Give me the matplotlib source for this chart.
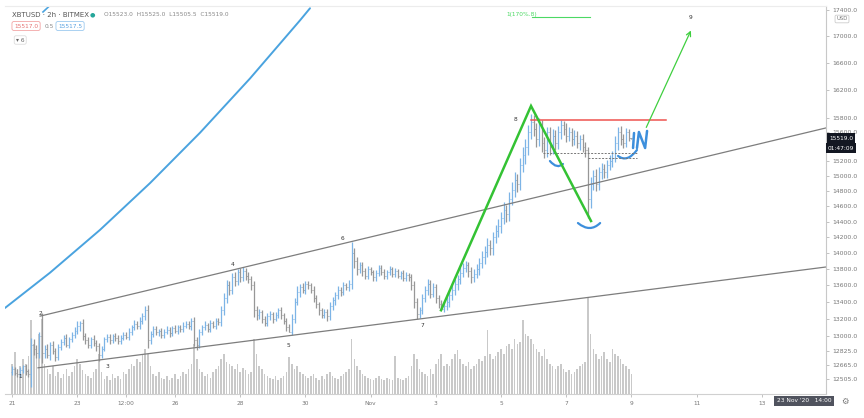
import matplotlib
matplotlib.use("Agg")
import matplotlib.pyplot as plt
import matplotlib.dates as mdates
from matplotlib.path import Path
from matplotlib.patches import PathPatch
from matplotlib.ticker import FixedLocator, FixedFormatter, NullLocator
import numpy as np
import pandas as pd

# XBTUSD 2h bars, first bar 21 Oct 2020 00:00 (open of each bar = previous close)
first_open = 12590
closes = [
    12620, 12580, 12560, 12610, 12650, 12600, 12560, 12900, 12850, 12800,
    13000, 12800, 12850, 12780, 12900, 12820, 12760, 12870, 12930, 12980,
    12900, 12960, 13010, 13060, 13120, 13150, 13000, 12950, 12900, 12960,
    12920, 12880, 12780, 12850, 12960, 12990, 12950, 13000, 12970, 12940,
    12980, 13010, 12990, 13050, 13100, 13140, 13120, 13180, 13230, 13300,
    12950, 13020, 13080, 13040, 13060, 13010, 13050, 13070, 13030, 13090,
    13060, 13100, 13080, 13120, 13140, 13110, 13170, 12950, 12900, 13050,
    13100, 13130, 13080, 13150, 13120, 13180, 13160, 13300, 13450, 13600,
    13550, 13700, 13650, 13760, 13700, 13780, 13720, 13680, 13600, 13300,
    13250, 13280, 13200, 13150, 13230, 13260, 13200, 13250, 13300, 13240,
    13180, 13100, 13050, 13200, 13400, 13520, 13580, 13550, 13620, 13600,
    13550, 13450, 13380, 13300, 13250, 13280, 13230, 13350, 13420, 13480,
    13550, 13520, 13600, 13580, 13620, 14000, 13900, 13800, 13850, 13780,
    13720, 13800, 13760, 13700, 13750, 13820, 13770, 13720, 13760, 13800,
    13740, 13780, 13720, 13750, 13690, 13730, 13700, 13600, 13400, 13260,
    13300, 13450, 13550, 13620, 13500, 13580, 13450, 13380, 13320, 13350,
    13400, 13480, 13550, 13620, 13680, 13750, 13820, 13850, 13780, 13700,
    13740, 13800, 13880, 13950, 14020, 14100, 14060, 14200, 14280, 14350,
    14450, 14550, 14500, 14700, 14820, 14950, 14900, 15150, 15280, 15400,
    15600, 15750, 15650, 15500, 15700, 15450, 15350, 15600, 15400, 15550,
    15450, 15600, 15700, 15650, 15550, 15600, 15500, 15550, 15450, 15500,
    15400, 15350, 14700, 14900, 15000, 14900, 15050, 15100, 15050, 15150,
    15200, 15250, 15450, 15600, 15500, 15450, 15600, 15523, 15519,
]
wick_up = [
    30, 25, 40, 35, 20, 30, 25, 75, 60, 50,
    50, 270, 40, 60, 30, 45, 35, 40, 30, 25,
    45, 30, 35, 40, 60, 30, 50, 35, 40, 30,
    45, 35, 40, 30, 25, 35, 30, 25, 30, 35,
    25, 30, 35, 40, 30, 50, 35, 45, 40, 50,
    60, 35, 30, 40, 25, 35, 30, 40, 30, 25,
    35, 30, 25, 40, 30, 35, 40, 50, 40, 35,
    30, 40, 25, 35, 30, 25, 30, 50, 60, 70,
    60, 50, 70, 40, 50, 50, 40, 50, 40, 60,
    50, 40, 30, 35, 40, 30, 25, 35, 30, 40,
    30, 25, 40, 60, 50, 70, 40, 50, 30, 40,
    35, 40, 30, 25, 30, 35, 40, 50, 40, 35,
    45, 30, 40, 35, 50, 140, 60, 50, 40, 45,
    35, 40, 30, 35, 40, 30, 35, 30, 25, 40,
    30, 35, 25, 30, 40, 30, 25, 40, 60, 50,
    45, 50, 40, 60, 45, 50, 40, 35, 40, 50,
    60, 50, 70, 60, 50, 80, 60, 50, 40, 50,
    60, 70, 60, 80, 70, 90, 60, 70, 80, 90,
    80, 100, 70, 90, 100, 110, 80, 100, 120, 110,
    100, 110, 90, 80, 100, 70, 90, 80, 70, 90,
    80, 90, 70, 60, 80, 70, 60, 80, 70, 60,
    70, 60, 40, 90, 80, 100, 70, 80, 60, 70,
    80, 90, 100, 80, 90, 70, 60, 50, 2,
]
wick_dn = [
    40, 30, 35, 25, 40, 45, 30, 140, 70, 50,
    60, 110, 50, 40, 60, 30, 45, 35, 30, 40,
    30, 45, 35, 30, 40, 60, 50, 40, 35, 45,
    40, 50, 70, 40, 30, 35, 40, 30, 35, 30,
    35, 25, 30, 35, 40, 30, 45, 35, 40, 45,
    90, 40, 30, 35, 40, 30, 35, 25, 40, 30,
    30, 35, 40, 30, 25, 35, 40, 70, 60, 40,
    35, 30, 40, 35, 30, 40, 35, 40, 50, 60,
    70, 50, 60, 50, 60, 40, 50, 45, 60, 80,
    60, 50, 45, 40, 35, 40, 45, 30, 35, 40,
    45, 40, 10, 40, 50, 40, 60, 45, 50, 40,
    45, 50, 55, 60, 40, 45, 50, 40, 45, 50,
    40, 50, 35, 40, 45, 60, 80, 70, 50, 60,
    45, 40, 35, 40, 45, 35, 40, 45, 35, 30,
    40, 35, 30, 40, 35, 30, 40, 50, 70, 60,
    50, 40, 45, 60, 50, 45, 60, 50, 20, 40,
    50, 60, 50, 60, 70, 60, 50, 60, 80, 70,
    60, 50, 70, 60, 80, 70, 90, 80, 70, 80,
    90, 80, 100, 90, 80, 100, 110, 90, 100, 120,
    110, 90, 100, 110, 90, 120, 100, 90, 110, 100,
    90, 80, 100, 90, 80, 70, 90, 80, 70, 90,
    80, 90, 250, 120, 90, 100, 80, 90, 70, 80,
    70, 80, 60, 90, 80, 70, 60, 50, 13.5,
]
volumes = [
    30, 42, 25, 28, 35, 30, 38, 74, 50, 45,
    60, 75, 30, 25, 20, 28, 18, 22, 16, 20,
    25, 18, 22, 28, 35, 30, 24, 20, 18, 16,
    22, 25, 40, 22, 15, 18, 14, 20, 16, 18,
    15, 22, 20, 25, 30, 28, 35, 32, 40, 45,
    40, 28, 20, 18, 22, 16, 15, 18, 14, 16,
    20, 15, 18, 22, 20, 25, 30, 50, 35, 25,
    22, 18, 20, 16, 22, 25, 28, 35, 40, 32,
    30, 28, 25, 30, 22, 26, 24, 20, 22, 55,
    40, 28, 25, 20, 18, 16, 15, 18, 14, 16,
    18, 22, 37, 30, 25, 28, 22, 20, 18, 16,
    18, 20, 16, 14, 18, 15, 20, 22, 18, 16,
    15, 18, 20, 22, 25, 55, 35, 28, 24, 20,
    18, 16, 15, 14, 16, 18, 15, 14, 16, 15,
    14, 38, 16, 15, 14, 16, 18, 28, 40, 35,
    25, 22, 20, 18, 25, 20, 30, 35, 40, 28,
    30, 28, 35, 40, 44, 35, 30, 28, 32, 25,
    28, 30, 35, 33, 38, 64, 40, 35, 38, 42,
    45, 40, 48, 50, 45, 55, 50, 52, 74, 60,
    58, 55, 50, 45, 42, 38, 45, 35, 30, 28,
    25, 28, 30, 25, 22, 24, 20, 22, 25, 28,
    30, 32, 97, 60, 45, 40, 35, 38, 42, 35,
    32, 45, 40, 38, 35, 30, 28, 25, 20,
]

price_ticks = [12505, 12665, 12825, 13000, 13200, 13400, 13600, 13800, 14000, 14200,
               14400, 14600, 14800, 15000, 15200, 15600, 15800, 16200, 16600,
               17000, 17400]
date_ticks = ["2020-10-21 00:00", "2020-10-23 00:00", "2020-10-24 12:00", "2020-10-26 00:00",
              "2020-10-28 00:00", "2020-10-30 00:00", "2020-11-01 00:00", "2020-11-03 00:00",
              "2020-11-05 00:00", "2020-11-07 00:00", "2020-11-09 00:00", "2020-11-11 00:00",
              "2020-11-13 00:00"]
date_labels = ["21", "23", "12:00", "26", "28", "30", "Nov", "3", "5", "7", "9", "11", "13"]

# drawings (time, price)
upper_t = ["2020-10-21 20:40", "2020-11-14 23:15"]
upper_p = [13232, 15660]
lower_t = ["2020-10-21 19:10", "2020-11-14 23:15"]
lower_p = [12634, 13827]
wave_t = ["2020-11-03 03:50", "2020-11-05 22:05", "2020-11-07 18:15"]
wave_p = [13302, 15971, 14408]
target_t = ["2020-11-09 10:05", "2020-11-10 20:40"]
target_p = [15632, 17126]
resist_t = ["2020-11-05 22:05", "2020-11-10 01:25"]
resist_p = 15772
arc_t = ["2020-10-20 18:50", "2020-10-22 04:00", "2020-10-23 16:47", "2020-10-25 05:35",
         "2020-10-26 18:25", "2020-10-28 07:13", "2020-10-29 20:01", "2020-10-30 03:23"]
arc_p = [13329, 13757, 14294, 14905, 15593, 16369, 17243, 17431]
stroke_t = ["2020-10-21 22:48", "2020-10-22 06:14"]
stroke_p = [17373, 17520]
smile_t = [["2020-11-06 12:00", "2020-11-06 17:17", "2020-11-06 21:36"],
           ["2020-11-07 08:38", "2020-11-07 17:31", "2020-11-08 00:58"],
           ["2020-11-08 14:10", "2020-11-08 20:53", "2020-11-09 04:05"]]
smile_p = [[15203, 15088, 15163], [14382, 14254, 14382], [15272, 15176, 15354]]
letter_i_t = ["2020-11-09 01:12", "2020-11-09 01:55"]
letter_i_p = [15381, 15589]
letter_n_t = ["2020-11-09 04:05", "2020-11-09 05:31", "2020-11-09 10:05", "2020-11-09 11:31"]
letter_n_p = [15381, 15603, 15381, 15618]
dash_t = [["2020-11-06 06:58", "2020-11-09 04:05"], ["2020-11-07 16:05", "2020-11-09 04:05"]]
dash_p = [15313, 15244]
wave_labels = ["1", "2", "3", "4", "5", "6", "7", "8", "9"]
wave_label_t = ["2020-10-21 05:53", "2020-10-21 20:38", "2020-10-23 22:34", "2020-10-27 18:00",
                "2020-10-29 11:17", "2020-10-31 03:36", "2020-11-02 13:55", "2020-11-05 10:19",
                "2020-11-10 19:12"]
wave_label_p = [12540, 13269, 12654, 13852, 12894, 14190, 13127, 15772, 17280]


def dn(ts):
    return mdates.date2num(pd.to_datetime(ts, format="mixed"))


times = pd.date_range("2020-10-21", periods=len(closes), freq="2h")
x = mdates.date2num(times)
c = np.array(closes, float)
o = np.r_[first_open, c[:-1]]
hi = np.maximum(o, c) + np.array(wick_up)
lo = np.minimum(o, c) - np.array(wick_dn)
cols = np.where(c >= o, "#7db4e6", "#979797")

W, H = 864, 418
fig = plt.figure(figsize=(W / 100, H / 100), dpi=100)
ax = fig.add_axes([5 / W, 24 / H, 821 / W, 388 / H])
axv = ax.twinx()
ax.set_zorder(2)
axv.set_zorder(1)
ax.patch.set_visible(False)

bw = 2 / 24
axv.bar(x, volumes, width=bw * 0.6, color="#c9c9c9", linewidth=0)
axv.set_ylim(0, 388)
axv.set_axis_off()

ax.vlines(x, lo, hi, colors=cols, lw=0.9)
ax.hlines(o, x - bw * 0.35, x, colors=cols, lw=0.7)
ax.hlines(c, x, x + bw * 0.35, colors=cols, lw=0.7)

ax.set_yscale("log")
ax.set_ylim(12341, 17466)
ax.set_xlim(dn("2020-10-20 18:50"), dn("2020-11-14 23:15"))
axv.set_xlim(ax.get_xlim())

ax.yaxis.tick_right()
ax.yaxis.set_major_locator(FixedLocator(price_ticks))
ax.yaxis.set_major_formatter(FixedFormatter([f"{p:.1f}" for p in price_ticks]))
ax.yaxis.set_minor_locator(NullLocator())
ax.tick_params(axis="y", labelsize=4.4, color="#aaaaaa", labelcolor="#777777",
               length=2.5, width=0.5, pad=2)
ax.xaxis.set_major_locator(FixedLocator(dn(date_ticks)))
ax.xaxis.set_major_formatter(FixedFormatter(date_labels))
ax.tick_params(axis="x", labelsize=4.2, color="#aaaaaa", labelcolor="#777777",
               length=2, width=0.5, pad=3)
ax.spines["left"].set_visible(False)
ax.spines["top"].set_color("#ececec")
ax.spines["right"].set_color("#c8c8c8")
ax.spines["bottom"].set_color("#d0d0d0")
for s in ax.spines.values():
    s.set_linewidth(0.8)

# channel
ax.plot(dn(upper_t), upper_p, color="#7d7d7d", lw=0.9)
ax.plot(dn(lower_t), lower_p, color="#7d7d7d", lw=0.9)
# big blue arc
ax.plot(dn(arc_t), arc_p, color="#4aa3df", lw=1.4, solid_capstyle="round")
ax.plot(dn(stroke_t), stroke_p, color="#4aa3df", lw=1.2)
# resistance
ax.plot(dn(resist_t), [resist_p, resist_p], color="#ef5350", lw=1.1)
# dotted levels
for tt, pp in zip(dash_t, dash_p):
    ax.plot(dn(tt), [pp, pp], color="#777777", lw=0.7, ls=(0, (2, 1.5)))
# wave zigzag and target arrow
ax.plot(dn(wave_t), wave_p, color="#34c234", lw=1.8, solid_joinstyle="miter")
tt = dn(target_t)
ax.annotate("", xy=(tt[1], target_p[1]), xytext=(tt[0], target_p[0]),
            arrowprops=dict(arrowstyle="->", color="#3fcf3f", lw=0.9, mutation_scale=8))
# hand drawn blue marks
for tt, pp in zip(smile_t, smile_p):
    verts = list(zip(dn(tt), pp))
    ax.add_patch(PathPatch(Path(verts, [Path.MOVETO, Path.CURVE3, Path.CURVE3]),
                           fill=False, ec="#3d8fdc", lw=1.6, capstyle="round"))
ax.plot(dn(letter_i_t), letter_i_p, color="#3d8fdc", lw=1.8, solid_capstyle="round")
ax.plot(dn(letter_n_t), letter_n_p, color="#3d8fdc", lw=1.8, solid_capstyle="round")
# wave count labels
for lab, tt, pp in zip(wave_labels, dn(wave_label_t), wave_label_p):
    ax.text(tt, pp, lab, fontsize=4.2, color="#333333", ha="center", va="center")
# fib target label
ax.text(dn("2020-11-05 03:36"), 17326, "1(170%.8)", fontsize=4.2, color="#4cd964",
        va="center", ha="left")
ax.plot(dn(["2020-11-05 22:48", "2020-11-07 17:31"]), [17300, 17300], color="#4cd964", lw=0.8)


def ftext(px, py, s, **kw):
    return fig.text(px / W, 1 - py / H, s, **kw)


# header
ftext(12, 15, "XBTUSD · 2h · BITMEX", fontsize=5, color="#555555", va="center")
ftext(92, 15, "●", fontsize=4.5, color="#26a69a", va="center", ha="center")
ftext(104, 15, "O15523.0  H15525.0  L15505.5  C15519.0", fontsize=4.2, color="#888888",
      va="center")
ftext(14, 26, "15517.0", fontsize=4.2, color="#e57373", va="center",
      bbox=dict(boxstyle="round,pad=0.35", fc="white", ec="#f2a5a5", lw=0.6))
ftext(45, 26, "0.5", fontsize=4.2, color="#888888", va="center")
ftext(58, 26, "15517.5", fontsize=4.2, color="#5aa2e0", va="center",
      bbox=dict(boxstyle="round,pad=0.35", fc="white", ec="#9cc9ef", lw=0.6))
ftext(16, 40, "▾ 6", fontsize=4.2, color="#666666", va="center",
      bbox=dict(boxstyle="round,pad=0.3", fc="white", ec="#dddddd", lw=0.6))

# price axis extras
ftext(842, 19, "USD", fontsize=3.8, color="#777777", va="center", ha="center",
      bbox=dict(boxstyle="round,pad=0.25", fc="white", ec="#cccccc", lw=0.6))
ftext(841, 138, "15519.0", fontsize=4.2, color="white", va="center", ha="center",
      bbox=dict(boxstyle="square,pad=0.35", fc="#131722", ec="none"))
ftext(841, 148, "01:47:09", fontsize=4.2, color="white", va="center", ha="center",
      bbox=dict(boxstyle="square,pad=0.35", fc="#131722", ec="none"))
ftext(804, 401, "23 Nov '20   14:00", fontsize=4.2, color="white", va="center", ha="center",
      bbox=dict(boxstyle="square,pad=0.45", fc="#50535e", ec="none"))
ftext(845, 401, "⚙", fontsize=6, color="#777777", va="center", ha="center")

fig.savefig("out.png", dpi=100, facecolor="white")
